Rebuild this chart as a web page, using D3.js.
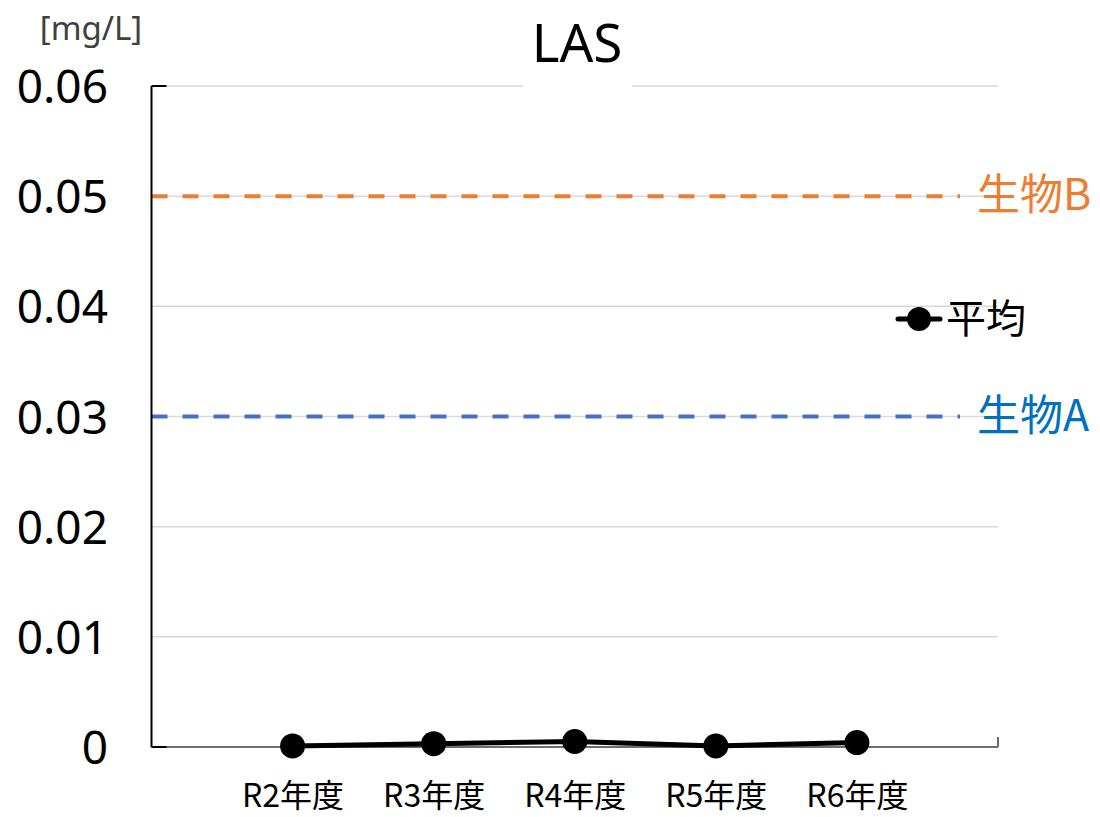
<!DOCTYPE html>
<html>
<head>
<meta charset="utf-8">
<script src="https://cdn.jsdelivr.net/npm/d3@7"></script>
<style>
  html, body { margin: 0; padding: 0; background: #fff; }
  svg { display: block; }
  text { font-family: "Noto Sans", "Noto Sans CJK JP", sans-serif; }
  .jp { font-family: "Noto Sans CJK JP", "Noto Sans", sans-serif; }
</style>
</head>
<body>
<svg id="chart" width="1100" height="817"></svg>
<script>
// Yearly averages of LAS (mg/L)
const categories = ["R2年度", "R3年度", "R4年度", "R5年度", "R6年度"];
const averages = [0.0001, 0.0003, 0.0005, 0.0001, 0.0004];

// Environmental standard levels
const standardNames = ["生物B", "生物A"];
const standardValues = [0.05, 0.03];

const yTicks = [0, 0.01, 0.02, 0.03, 0.04, 0.05, 0.06];
const yTickLabels = ["0", "0.01", "0.02", "0.03", "0.04", "0.05", "0.06"];

const title = "LAS";
const unitLabel = "[mg/L]";
const legendLabel = "平均";

const svg = d3.select("#chart");

const plot = { left: 151.5, right: 998, top: 86, bottom: 747 };

// Categories sit on slots 1..5 of a 0..6 axis
const x = d3.scaleLinear().domain([0, categories.length + 1]).range([plot.left, plot.right]);
const y = d3.scaleLinear().domain([0, 0.06]).range([plot.bottom, plot.top]);

// Gridlines
svg.append("g")
  .selectAll("line")
  .data(yTicks.slice(1))
  .join("line")
  .attr("x1", plot.left).attr("x2", plot.right)
  .attr("y1", d => y(d)).attr("y2", d => y(d))
  .attr("stroke", "#d9d9d9").attr("stroke-width", 1.5);

// Title box covers the top gridline
const titleG = svg.append("g");
titleG.append("rect")
  .attr("x", 523).attr("y", 10).attr("width", 109).attr("height", 78)
  .attr("fill", "#fff");
titleG.append("text")
  .attr("x", 577).attr("y", 62)
  .attr("text-anchor", "middle")
  .attr("font-size", 53)
  .attr("fill", "#000")
  .text(title);

// Unit label
svg.append("text")
  .attr("x", 91).attr("y", 40)
  .attr("text-anchor", "middle")
  .attr("font-size", 33)
  .attr("fill", "#404040")
  .text(unitLabel);

// Y axis tick labels
const yAxis = d3.axisLeft(y).tickValues(yTicks)
  .tickFormat((d, i) => yTickLabels[i])
  .tickSize(0).tickPadding(0);
const yAxisG = svg.append("g")
  .attr("transform", `translate(108,0)`)
  .call(yAxis);
yAxisG.select(".domain").remove();
yAxisG.selectAll("text")
  .attr("font-size", 46)
  .attr("font-family", "'Noto Sans', sans-serif")
  .attr("fill", "#000")
  .attr("dy", "0.36em");

// Standard lines (dashed)
const standardColors = ["#ED7D31", "#4472C4"];
const standardTextColors = ["#ED7D31", "#0070C0"];
svg.append("g")
  .selectAll("line")
  .data(standardValues)
  .join("line")
  .attr("x1", plot.left).attr("x2", 960)
  .attr("y1", d => y(d)).attr("y2", d => y(d))
  .attr("stroke", (d, i) => standardColors[i])
  .attr("stroke-width", 4)
  .attr("stroke-dasharray", "16,15");

svg.append("g")
  .selectAll("text")
  .data(standardValues)
  .join("text")
  .attr("class", "jp")
  .attr("x", 977)
  .attr("y", d => y(d) + 14)
  .attr("font-size", 43)
  .attr("fill", (d, i) => standardTextColors[i])
  .text((d, i) => standardNames[i]);

// Axes lines
svg.append("line")
  .attr("x1", plot.left).attr("x2", plot.right)
  .attr("y1", plot.bottom).attr("y2", plot.bottom)
  .attr("stroke", "#6e6e6e").attr("stroke-width", 2);
svg.append("line")
  .attr("x1", plot.right).attr("x2", plot.right)
  .attr("y1", plot.bottom - 10).attr("y2", plot.bottom)
  .attr("stroke", "#6e6e6e").attr("stroke-width", 2);
svg.append("line")
  .attr("x1", plot.left).attr("x2", plot.left)
  .attr("y1", plot.top).attr("y2", plot.bottom)
  .attr("stroke", "#000").attr("stroke-width", 2);
[0, 0.06].forEach(v => {
  svg.append("line")
    .attr("x1", plot.left).attr("x2", plot.left + 15)
    .attr("y1", y(v)).attr("y2", y(v))
    .attr("stroke", "#000").attr("stroke-width", 2);
});

// Category labels
const xAxis = d3.axisBottom(x)
  .tickValues(d3.range(1, categories.length + 1))
  .tickFormat(i => categories[i - 1])
  .tickSize(0).tickPadding(0);
const xAxisG = svg.append("g")
  .attr("transform", `translate(0,${plot.bottom})`)
  .call(xAxis);
xAxisG.select(".domain").remove();
xAxisG.selectAll("text")
  .attr("class", "jp")
  .attr("font-size", 32)
  .attr("font-family", "'Noto Sans CJK JP', sans-serif")
  .attr("fill", "#000")
  .attr("y", 60)
  .attr("dy", 0);

// Average series
const line = d3.line()
  .x((d, i) => x(i + 1))
  .y(d => y(d));
svg.append("path")
  .datum(averages)
  .attr("d", line)
  .attr("fill", "none")
  .attr("stroke", "#000")
  .attr("stroke-width", 5)
  .attr("stroke-linejoin", "round");
svg.append("g")
  .selectAll("circle")
  .data(averages)
  .join("circle")
  .attr("cx", (d, i) => x(i + 1))
  .attr("cy", d => y(d))
  .attr("r", 12.5)
  .attr("fill", "#000");

// Legend
const legend = svg.append("g").attr("transform", "translate(898,319)");
legend.append("line")
  .attr("x1", 0).attr("x2", 42).attr("y1", 0).attr("y2", 0)
  .attr("stroke", "#000").attr("stroke-width", 5).attr("stroke-linecap", "round");
legend.append("circle").attr("cx", 21).attr("cy", 0).attr("r", 12).attr("fill", "#000");
legend.append("text")
  .attr("class", "jp")
  .attr("x", 48).attr("y", 14)
  .attr("font-size", 40)
  .attr("fill", "#000")
  .text(legendLabel);
</script>
</body>
</html>
